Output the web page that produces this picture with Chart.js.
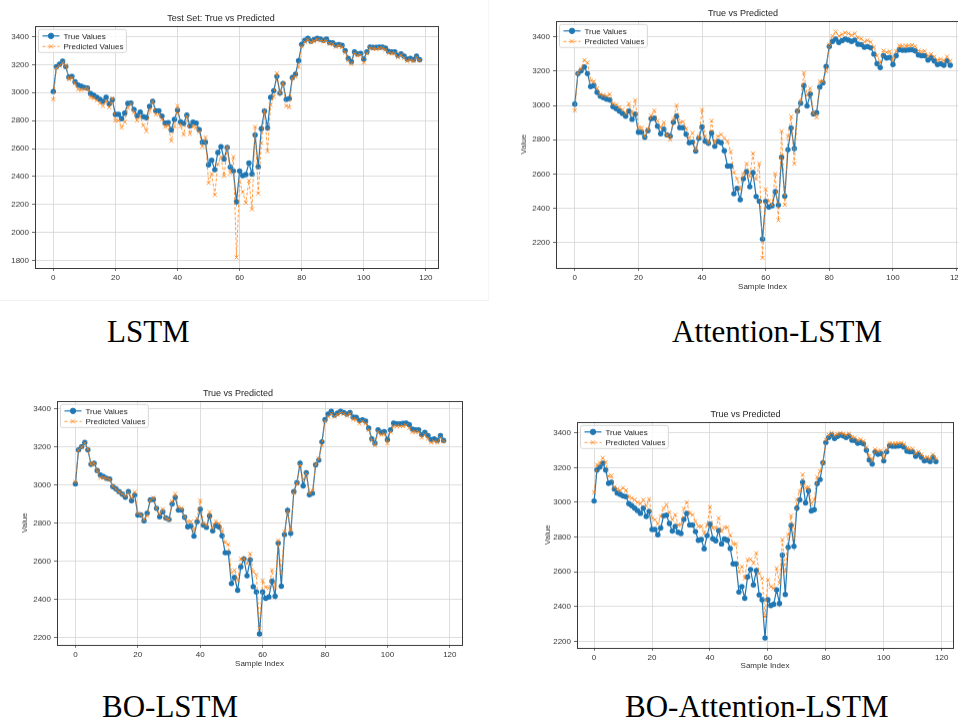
<!DOCTYPE html>
<html>
<head>
<meta charset="utf-8">
<script src="https://cdn.jsdelivr.net/npm/chart.js@4.4.1/dist/chart.umd.min.js"></script>
<style>
  html, body { margin: 0; padding: 0; background: #fff; }
  body { width: 958px; height: 719px; position: relative; overflow: hidden; }
  .panel { position: absolute; }
  .cap { position: absolute; font-family: "Liberation Serif", "Times New Roman", serif; font-size: 31px; color: #000; line-height: 1; white-space: nowrap; }
  #frame1 { position: absolute; left: 0; top: 0; width: 488px; height: 300px; border-bottom: 1px solid #f0f0f0; border-right: 1px solid #f6f6f6; }
</style>
</head>
<body>
<div id="frame1"></div>
<div class="panel" id="p1"><canvas id="c1"></canvas></div>
<div class="panel" id="p2"><canvas id="c2"></canvas></div>
<div class="panel" id="p3"><canvas id="c3"></canvas></div>
<div class="panel" id="p4"><canvas id="c4"></canvas></div>
<div class="cap" style="left:107px; top:316px;">LSTM</div>
<div class="cap" style="left:672px; top:316px;">Attention-LSTM</div>
<div class="cap" style="left:102px; top:691px;">BO-LSTM</div>
<div class="cap" style="left:625px; top:691px;">BO-Attention-LSTM</div>
<script>
// Данные: истинные значения тестовой выборки (общие для всех четырёх графиков)
const trueValues = [
  3008, 3186, 3203, 3225, 3186, 3110, 3116, 3077, 3054, 3046, 3037, 3033, 2993, 2981, 2967, 2953, 2937, 2967, 2919, 2949,
  2844, 2844, 2814, 2853, 2923, 2926, 2879, 2835, 2861, 2828,
  2821, 2902, 2937, 2870, 2870, 2832, 2782, 2786, 2733, 2809,
  2874, 2791, 2779, 2839, 2761, 2789, 2782, 2735, 2646, 2646,
  2484, 2516, 2449, 2572, 2614, 2525, 2608, 2468, 2440, 2220,
  2440, 2407, 2414, 2497, 2418, 2697, 2470, 2742, 2868, 2748,
  2967, 3014, 3116, 2997, 3066, 2951, 2958, 3108, 3132, 3228,
  3345, 3374, 3388, 3368, 3379, 3388, 3382, 3374, 3382, 3358,
  3356, 3340, 3344, 3337, 3300, 3244, 3221, 3291, 3277, 3281,
  3239, 3291, 3326, 3323, 3323, 3325, 3326, 3318, 3295, 3291,
  3291, 3265, 3277, 3260, 3239, 3244, 3235, 3260, 3235
];

// Прогнозы моделей
const predLstm = [
  2952, 3176, 3192, 3215, 3196, 3095, 3105, 3065, 3022, 3020, 3025, 3030, 2966, 2960, 2945, 2925, 2905, 2940, 2895, 2960,
  2800, 2800, 2750, 2790, 2890, 2918, 2860, 2800, 2830, 2765,
  2725, 2870, 2935, 2845, 2845, 2810, 2755, 2765, 2655, 2760,
  2905, 2760, 2700, 2830, 2705, 2760, 2750, 2720, 2615, 2680,
  2355, 2420, 2270, 2490, 2540, 2405, 2610, 2425, 2540, 1822,
  2364, 2290, 2214, 2370, 2167, 2755, 2280, 2640, 2870, 2580,
  2912, 2972, 3138, 2996, 3067, 2905, 2895, 3102, 3114, 3186,
  3329, 3362, 3378, 3360, 3368, 3380, 3372, 3365, 3372, 3348,
  3346, 3328, 3335, 3325, 3285, 3230, 3205, 3280, 3266, 3270,
  3215, 3280, 3318, 3315, 3312, 3316, 3318, 3306, 3282, 3280,
  3280, 3252, 3268, 3248, 3225, 3232, 3225, 3252, 3230
];

const predAttention = [
  2970, 3190, 3215, 3265, 3250, 3145, 3140, 3100, 3065, 3060, 3055, 3065, 3010, 3005, 2990, 2975, 2955, 3010, 2950, 3030,
  2870, 2870, 2820, 2860, 2940, 2970, 2910, 2870, 2900, 2825,
  2800, 2920, 3000, 2900, 2905, 2865, 2810, 2840, 2740, 2820,
  2975, 2820, 2780, 2910, 2780, 2820, 2830, 2810, 2790, 2730,
  2610, 2570, 2510, 2600, 2660, 2585, 2720, 2570, 2660, 2110,
  2510, 2440, 2420, 2600, 2330, 2850, 2420, 2820, 2935, 2660,
  2965, 3025, 3190, 3060, 3100, 2955, 2930, 3140, 3140, 3200,
  3355, 3405, 3430, 3405, 3415, 3425, 3420, 3410, 3420, 3395,
  3390, 3372, 3380, 3370, 3340, 3290, 3250, 3320, 3310, 3315,
  3265, 3315, 3350, 3348, 3348, 3350, 3352, 3345, 3320, 3315,
  3318, 3290, 3300, 3285, 3265, 3270, 3262, 3285, 3260
];

const predBoLstm = [
  3018, 3185, 3200, 3220, 3190, 3110, 3115, 3075, 3040, 3040, 3035, 3030, 2995, 2980, 2965, 2955, 2945, 2960, 2935, 2965,
  2855, 2845, 2820, 2840, 2920, 2935, 2880, 2850, 2875, 2825,
  2820, 2915, 2955, 2885, 2880, 2835, 2810, 2810, 2760, 2825,
  2920, 2800, 2790, 2860, 2775, 2810, 2800, 2765, 2700, 2690,
  2540, 2555, 2500, 2615, 2615, 2590, 2640, 2545, 2530, 2250,
  2500, 2465, 2460, 2555, 2465, 2710, 2540, 2755, 2860, 2760,
  2960, 3010, 3105, 3030, 3060, 2960, 2970, 3110, 3140, 3210,
  3335, 3360, 3375, 3360, 3370, 3380, 3375, 3365, 3375, 3345,
  3345, 3325, 3335, 3325, 3290, 3235, 3210, 3280, 3265, 3270,
  3220, 3280, 3310, 3310, 3310, 3310, 3315, 3300, 3280, 3280,
  3280, 3250, 3265, 3245, 3225, 3230, 3225, 3250, 3230
];

const predBoAttention = [
  3057, 3217, 3227, 3256, 3231, 3150, 3154, 3088, 3077, 3069, 3083, 3069, 3031, 3025, 3015, 3000, 2992, 3015, 2981, 3019,
  2910, 2900, 2877, 2919, 2967, 2987, 2942, 2900, 2929, 2871,
  2871, 2962, 3000, 2938, 2929, 2890, 2862, 2862, 2823, 2871,
  2973, 2852, 2852, 2910, 2833, 2856, 2856, 2813, 2761, 2761,
  2600, 2630, 2563, 2669, 2673, 2650, 2708, 2592, 2563, 2342,
  2554, 2515, 2506, 2621, 2535, 2785, 2600, 2813, 2923, 2794,
  3015, 3063, 3160, 3083, 3088, 2992, 3015, 3146, 3179, 3231,
  3361, 3388, 3400, 3385, 3392, 3398, 3395, 3388, 3395, 3375,
  3372, 3358, 3362, 3352, 3318, 3265, 3240, 3305, 3295, 3298,
  3255, 3305, 3340, 3338, 3338, 3340, 3342, 3335, 3312, 3308,
  3308, 3282, 3292, 3276, 3256, 3260, 3252, 3275, 3250
];

const xTicks = [0, 20, 40, 60, 80, 100, 120];
const yTicksLstm = [1800, 2000, 2200, 2400, 2600, 2800, 3000, 3200, 3400];
const yTicksOther = [2200, 2400, 2600, 2800, 3000, 3200, 3400];
const seriesNames = ['True Values', 'Predicted Values'];

const BLUE = '#1f77b4';
const ORANGE = 'rgba(255, 127, 14, 0.8)';
const TITLE_H = 14.8;

// Рамка вокруг области графика + легенда в стиле matplotlib
const framePlugin = {
  id: 'frameLegend',
  afterDraw(chart) {
    const { ctx, chartArea: a } = chart;
    ctx.save();
    ctx.strokeStyle = '#3a3a3a';
    ctx.lineWidth = 1;
    ctx.strokeRect(Math.round(a.left) + 0.5, Math.round(a.top) + 0.5,
      Math.round(a.right - a.left), Math.round(a.bottom - a.top));

    ctx.font = '8px "Liberation Sans", Arial, sans-serif';
    const textW = Math.max(...seriesNames.map(s => ctx.measureText(s).width));
    const bx = a.left + 3.5, by = a.top + 3.5;
    const bw = 28 + textW, bh = 23;
    ctx.fillStyle = 'rgba(255,255,255,0.85)';
    ctx.strokeStyle = '#d6d6d6';
    ctx.beginPath();
    ctx.roundRect(bx, by, bw, bh, 2);
    ctx.fill();
    ctx.stroke();

    chart.data.datasets.slice().sort((p, q) => p.legendIndex - q.legendIndex).forEach((ds, i) => {
      const y = by + 6.5 + i * 10.5;
      ctx.strokeStyle = ds.borderColor;
      ctx.fillStyle = ds.borderColor;
      ctx.lineWidth = ds.borderWidth;
      ctx.setLineDash(ds.borderDash || []);
      ctx.beginPath();
      ctx.moveTo(bx + 4, y);
      ctx.lineTo(bx + 21, y);
      ctx.stroke();
      ctx.setLineDash([]);
      ctx.lineWidth = 1;
      Chart.helpers.drawPoint(ctx, {
        pointStyle: ds.pointStyle, radius: ds.pointRadius, borderWidth: 1
      }, bx + 12.5, y);
      ctx.fillStyle = '#222';
      ctx.textBaseline = 'middle';
      ctx.fillText(ds.label, bx + 25, y + 0.5);
    });
    ctx.restore();
  }
};

const panels = [
  { id: 'c1', box: 'p1', plot: [35, 26, 439, 267], yW: 32, xH: 16, title: 'Test Set: True vs Predicted',
    pred: predLstm, yMin: 1748, yMax: 3477, yTicks: yTicksLstm, axisTitles: false },
  { id: 'c2', box: 'p2', plot: [556, 21, 970, 267], yW: 40, xH: 26, title: 'True vs Predicted',
    pred: predAttention, yMin: 2052, yMax: 3494, yTicks: yTicksOther, axisTitles: true, yPad: 3, xPad: 2 },
  { id: 'c3', box: 'p3', plot: [57, 401, 463, 644], yW: 44, xH: 24, title: 'True vs Predicted',
    pred: predBoLstm, yMin: 2163, yMax: 3443, yTicks: yTicksOther, axisTitles: true, yPad: 7, xPad: 0 },
  { id: 'c4', box: 'p4', plot: [577, 422, 954, 647], yW: 40, xH: 24, title: 'True vs Predicted',
    pred: predBoAttention, yMin: 2164, yMax: 3463, yTicks: yTicksOther, axisTitles: true, yPad: 6, xPad: 1 }
];

const tickFont = { family: '"Liberation Sans", Arial, sans-serif', size: 8 };

panels.forEach(p => {
  const [L, T, R, B] = p.plot;
  const padR = 4;
  const box = document.getElementById(p.box);
  box.style.left = (L - p.yW) + 'px';
  box.style.top = (T - TITLE_H) + 'px';
  box.style.width = (R - L + p.yW + padR) + 'px';
  box.style.height = (B - T + TITLE_H + p.xH) + 'px';

  new Chart(document.getElementById(p.id), {
    type: 'line',
    data: {
      datasets: [
        {
          label: seriesNames[0],
          legendIndex: 0,
          data: trueValues.map((v, i) => ({ x: i, y: v })),
          borderColor: BLUE,
          backgroundColor: BLUE,
          borderWidth: 1.2,
          pointStyle: 'circle',
          pointRadius: 2.7,
          pointBorderWidth: 0,
          pointBackgroundColor: BLUE,
          tension: 0,
          order: 1
        },
        {
          label: seriesNames[1],
          legendIndex: 1,
          data: p.pred.map((v, i) => ({ x: i, y: v })),
          borderColor: ORANGE,
          backgroundColor: ORANGE,
          borderWidth: 1,
          borderDash: [3, 2],
          pointStyle: 'crossRot',
          pointRadius: 2.8,
          pointBorderWidth: 1,
          pointBorderColor: ORANGE,
          tension: 0,
          order: 0
        }
      ]
    },
    options: {
      responsive: true,
      maintainAspectRatio: false,
      animation: false,
      layout: { padding: { left: 0, right: padR, top: 0, bottom: 0 } },
      plugins: {
        legend: { display: false },
        tooltip: { enabled: false },
        title: {
          display: true,
          text: p.title,
          color: '#222',
          font: { family: '"Liberation Sans", Arial, sans-serif', size: 9, weight: 'normal' },
          padding: { top: 2, bottom: 2 }
        }
      },
      scales: {
        x: {
          type: 'linear',
          min: -5.9,
          max: 123.9,
          afterBuildTicks: s => { s.ticks = xTicks.map(v => ({ value: v })); },
          afterFit: s => { s.height = p.xH; },
          ticks: { font: tickFont, color: '#333', padding: 2, maxRotation: 0, callback: v => String(v) },
          grid: { color: '#d4d4d4', lineWidth: 0.8, tickLength: 3, tickColor: '#444' },
          border: { display: false },
          title: {
            display: p.axisTitles, text: 'Sample Index', color: '#333',
            font: tickFont, padding: { top: 0, bottom: p.xPad || 0 }
          }
        },
        y: {
          min: p.yMin,
          max: p.yMax,
          afterBuildTicks: s => { s.ticks = p.yTicks.map(v => ({ value: v })); },
          afterFit: s => { s.width = p.yW; },
          ticks: { font: tickFont, color: '#333', padding: 3, callback: v => String(v) },
          grid: { color: '#d4d4d4', lineWidth: 0.8, tickLength: 3, tickColor: '#444' },
          border: { display: false },
          title: {
            display: p.axisTitles, text: 'Value', color: '#333',
            font: tickFont, padding: { top: p.yPad || 0, bottom: 0 }
          }
        }
      }
    },
    plugins: [framePlugin]
  });
});
</script>
</body>
</html>
